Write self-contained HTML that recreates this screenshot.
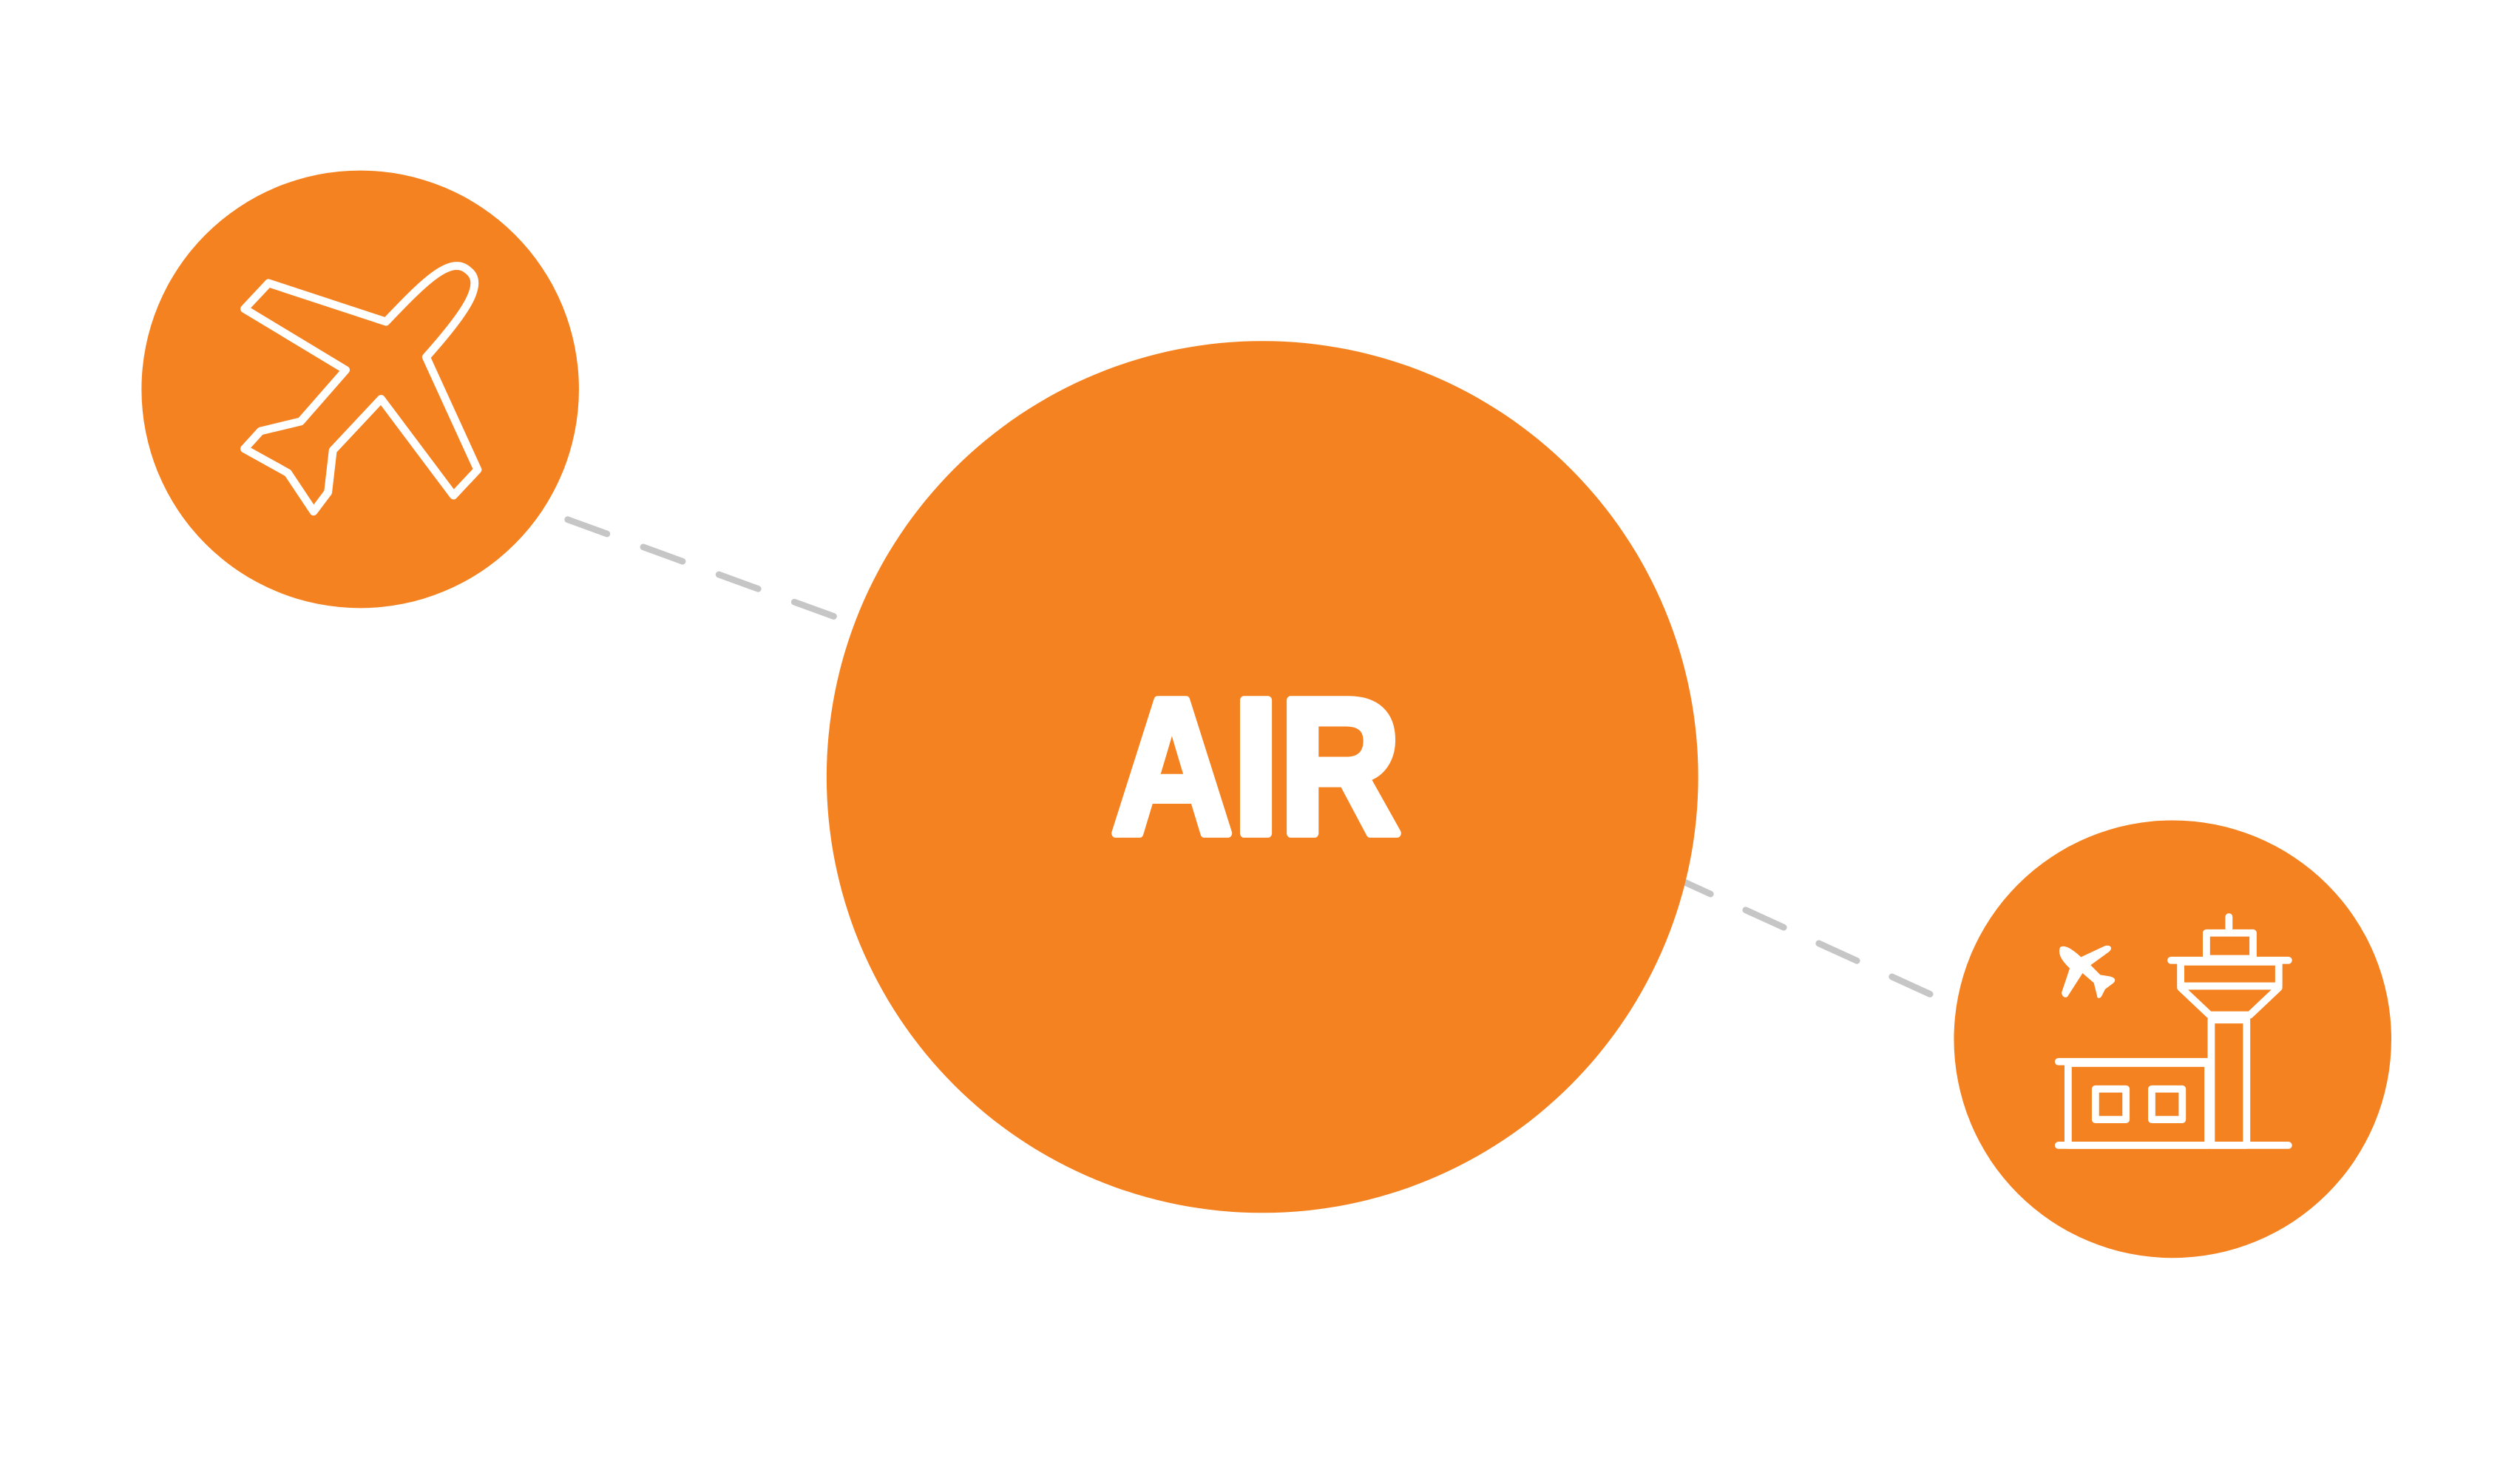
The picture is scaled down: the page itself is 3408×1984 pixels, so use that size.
<!DOCTYPE html>
<html><head><meta charset="utf-8"><style>
html,body{margin:0;padding:0;background:#fff;}
svg{display:block;}
</style></head><body>
<svg width="3408" height="1984" viewBox="0 0 1567 912" preserveAspectRatio="none" xmlns="http://www.w3.org/2000/svg">
<rect width="1567" height="912" fill="#fff"/>
<g stroke="#c6c6c6" stroke-width="4" stroke-linecap="round" stroke-dasharray="26 24">
<line x1="353" y1="323" x2="540" y2="391"/>
<line x1="1040" y1="545" x2="1222" y2="628"/>
</g>
<circle cx="224" cy="242" r="136" fill="#f58220"/>
<circle cx="785" cy="483" r="271" fill="#f58220"/>
<circle cx="1351" cy="646" r="136" fill="#f58220"/>
<path d="M152,192 L167,176 L240,200 C262,177 280,158 291,168 C302,176 290,194 265,222 L297,292 L282,308 L237,248 L207,280 L204,306 L195,318 L179,294 L152,279 L162,268 L187,262 L215,230 Z" fill="none" stroke="#fff" stroke-width="5" stroke-linejoin="round"/>
<text x="781" y="518" text-anchor="middle" font-family="Liberation Sans, sans-serif" font-weight="bold" font-size="120" textLength="180" lengthAdjust="spacingAndGlyphs" fill="#fff" stroke="#fff" stroke-width="5.5" stroke-linejoin="round">AIR</text>
<g fill="none" stroke="#fff" stroke-width="4.5" stroke-linejoin="round" stroke-linecap="round">
<line x1="1386" y1="570" x2="1386" y2="577"/>
<rect x="1372" y="580" width="29" height="16"/>
<line x1="1350" y1="597" x2="1423" y2="597"/>
<rect x="1356" y="598" width="61" height="15"/>
<path d="M1356,614 L1374,631 L1399,631 L1417,614"/>
<rect x="1375" y="634" width="22" height="78"/>
<line x1="1280" y1="660" x2="1373" y2="660"/>
<rect x="1286" y="661" width="87" height="51"/>
<line x1="1280" y1="712" x2="1423" y2="712"/>
<rect x="1303" y="677" width="19" height="19"/>
<rect x="1338" y="677" width="19" height="19"/>
</g>
<path d="M1281,589 C1284,586 1292,593 1294,595 L1309,588 C1313,587 1314,590 1311,592 L1300,600 L1306,606 L1312,607 C1316,608 1316,610 1313,612 L1309,615 L1307,619 C1306,621 1304,621 1304,619 L1302,611 L1295,605 L1286,619 C1285,621 1282,620 1282,617 L1287,602 C1284,599 1279,594 1281,589 Z" fill="#fff"/>
</svg>
</body></html>
